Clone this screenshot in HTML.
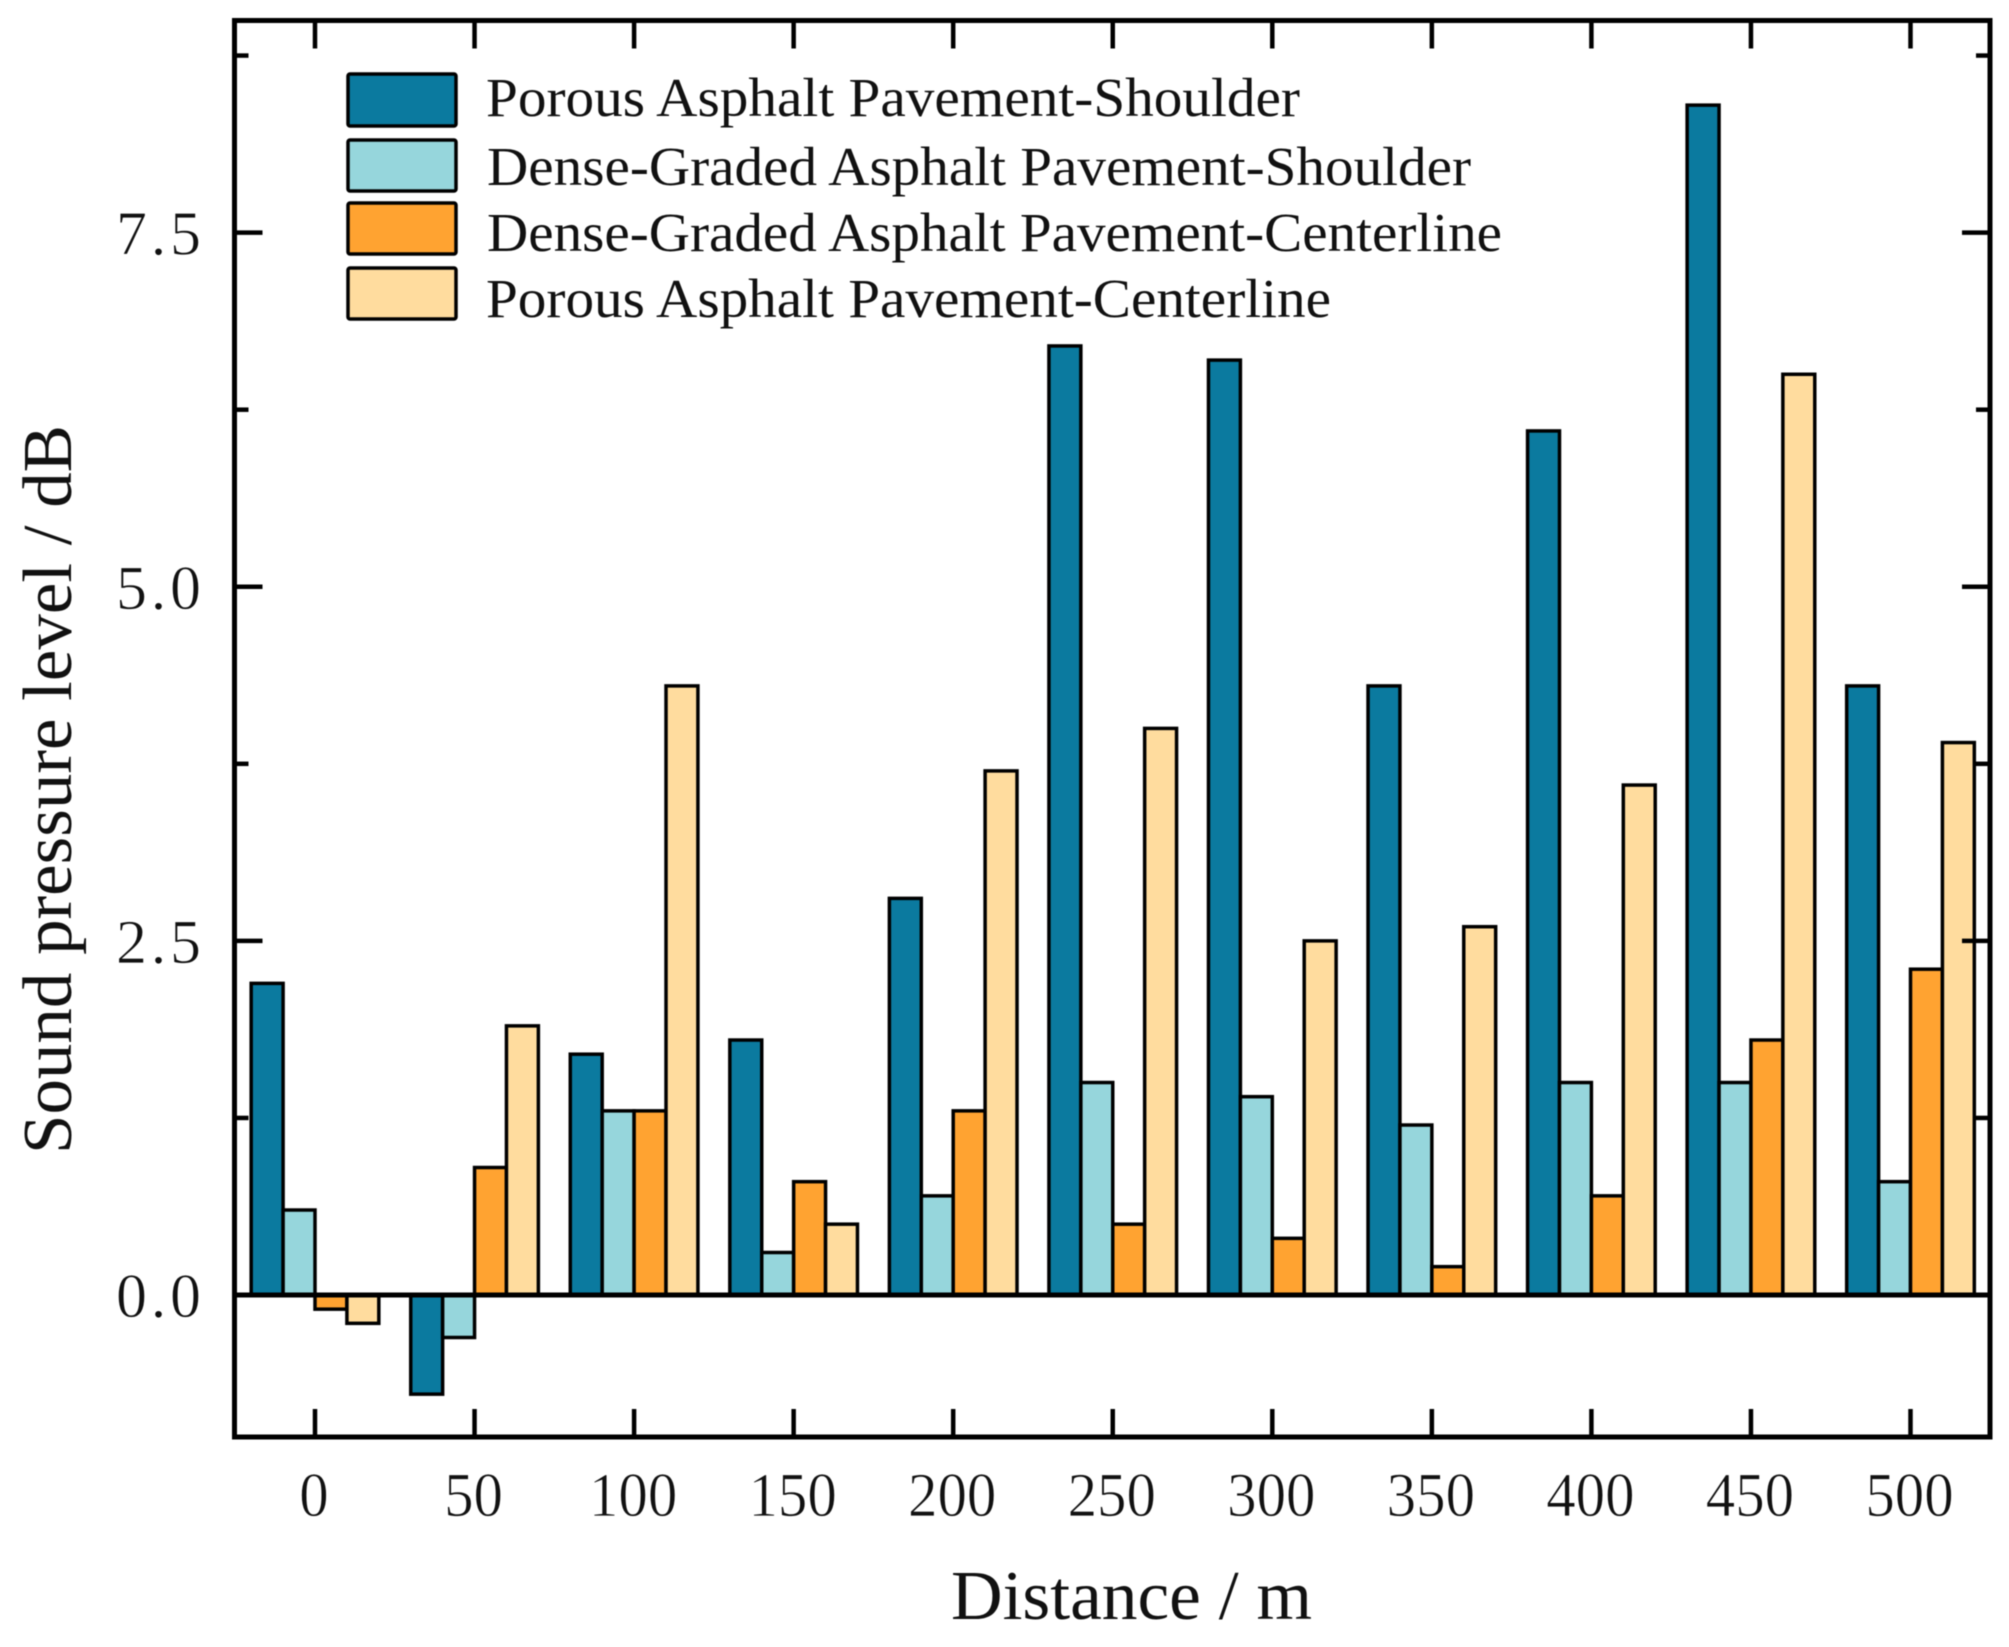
<!DOCTYPE html>
<html lang="en">
<head>
<meta charset="utf-8">
<title>Sound pressure level by distance</title>
<style>
  html, body { margin: 0; padding: 0; background: #fff; }
  body { width: 2009px; height: 1647px; overflow: hidden; }
  svg { display: block; filter: blur(0.6px); }
  text { font-family: "Liberation Serif", "Times New Roman", serif; fill: #111; }
</style>
</head>
<body>
<svg id="chart" xmlns="http://www.w3.org/2000/svg" width="2009" height="1647" viewBox="0 0 2009 1647">
  <rect x="0" y="0" width="2009" height="1647" fill="#ffffff"/>
  <g id="bars"></g>
  <g id="ticks"></g>
  <line id="zero-line" stroke="#000" stroke-width="5"/>
  <rect id="frame" fill="none" stroke="#000" stroke-width="5"/>
  <g id="tick-labels"></g>

  <g>
    <g>
      <rect x="348" y="74" width="108" height="52" rx="2" fill="#0b7a9f" stroke="#000" stroke-width="3.5"/>
      <text x="486" y="116" font-size="55" textLength="814" lengthAdjust="spacingAndGlyphs">Porous Asphalt Pavement-Shoulder</text>
    </g>
    <g>
      <rect x="348" y="140" width="108" height="51" rx="2" fill="#96d6dc" stroke="#000" stroke-width="3.5"/>
      <text x="487" y="185" font-size="55" textLength="984" lengthAdjust="spacingAndGlyphs">Dense-Graded Asphalt Pavement-Shoulder</text>
    </g>
    <g>
      <rect x="348" y="203" width="108" height="51" rx="2" fill="#ffa331" stroke="#000" stroke-width="3.5"/>
      <text x="487" y="251" font-size="55" textLength="1015" lengthAdjust="spacingAndGlyphs">Dense-Graded Asphalt Pavement-Centerline</text>
    </g>
    <g>
      <rect x="348" y="268" width="108" height="51" rx="2" fill="#ffdc9e" stroke="#000" stroke-width="3.5"/>
      <text x="486" y="317" font-size="55" textLength="845" lengthAdjust="spacingAndGlyphs">Porous Asphalt Pavement-Centerline</text>
    </g>
  </g>

  <text x="951" y="1619" font-size="70" textLength="361" lengthAdjust="spacingAndGlyphs">Distance / m</text>
  <text transform="translate(71,1154) rotate(-90)" x="0" y="0" font-size="70" textLength="729" lengthAdjust="spacingAndGlyphs">Sound pressure level / dB</text>
</svg>

<script>
const categories = [0, 50, 100, 150, 200, 250, 300, 350, 400, 450, 500];
const porousShoulder = [2.2, -0.7, 1.7, 1.8, 2.8, 6.7, 6.6, 4.3, 6.1, 8.4, 4.3];
const denseShoulder = [0.6, -0.3, 1.3, 0.3, 0.7, 1.5, 1.4, 1.2, 1.5, 1.5, 0.8];
const denseCenterline = [-0.1, 0.9, 1.3, 0.8, 1.3, 0.5, 0.4, 0.2, 0.7, 1.8, 2.3];
const porousCenterline = [-0.2, 1.9, 4.3, 0.5, 3.7, 4.0, 2.5, 2.6, 3.6, 6.5, 3.9];
const yMajorTicks = [0, 2.5, 5, 7.5];
const yMinorTicks = [1.25, 3.75, 6.25, 8.75];
const yTickLabels = ["0.0", "2.5", "5.0", "7.5"];
const xTickLabels = ["0", "50", "100", "150", "200", "250", "300", "350", "400", "450", "500"];

const seriesKeys = ["porous-shoulder", "dense-shoulder", "dense-centerline", "porous-centerline"];
const seriesValues = [porousShoulder, denseShoulder, denseCenterline, porousCenterline];
const seriesColors = ["#0b7a9f", "#96d6dc", "#ffa331", "#ffdc9e"];

const NS = "http://www.w3.org/2000/svg";
const plotLeft = 234.5, plotRight = 1990, plotTop = 20.5, plotBottom = 1437;
const bandPerUnit = 159.55 / 50;
const barFraction = 0.2;

function xScale(v) { return 315.0 + v * bandPerUnit; }
function yScale(v) { return 1295 - v * 141.65; }

function make(tag, attrs, parent) {
  const el = document.createElementNS(NS, tag);
  for (const k in attrs) el.setAttribute(k, attrs[k]);
  parent.appendChild(el);
  return el;
}

const barsG = document.getElementById("bars");
const barWidth = barFraction * 50 * bandPerUnit;
seriesValues.forEach(function (vals, s) {
  vals.forEach(function (v, i) {
    const x = xScale(categories[i]) + (s - 2) * barWidth;
    const y0 = yScale(0), y1 = yScale(v);
    const r = make("rect", {
      x: x, y: Math.min(y0, y1), width: barWidth, height: Math.abs(y1 - y0),
      fill: seriesColors[s], stroke: "#000", "stroke-width": 3.5
    }, barsG);
    
    
  });
});

const zero = document.getElementById("zero-line");
zero.setAttribute("x1", plotLeft);
zero.setAttribute("x2", plotRight);
zero.setAttribute("y1", yScale(0));
zero.setAttribute("y2", yScale(0));

const frame = document.getElementById("frame");
frame.setAttribute("x", plotLeft);
frame.setAttribute("y", plotTop);
frame.setAttribute("width", plotRight - plotLeft);
frame.setAttribute("height", plotBottom - plotTop);

const ticksG = document.getElementById("ticks");
const labelsG = document.getElementById("tick-labels");

categories.forEach(function (c, i) {
  const x = xScale(c);
  const b = make("line", { x1: x, x2: x, y1: plotBottom, y2: plotBottom - 28, stroke: "#000", "stroke-width": 4.5 }, ticksG);
  
  
  const t = make("line", { x1: x, x2: x, y1: plotTop, y2: plotTop + 28, stroke: "#000", "stroke-width": 4.5 }, ticksG);
  
  
  const lab = make("text", {
    transform: "translate(" + (x - 1) + ",1516) scale(0.95,1)",
    "text-anchor": "middle", "font-size": 62,
    stroke: "#fff", "stroke-width": 0.7
  }, labelsG);
  lab.textContent = xTickLabels[i];
  
  
});

function yTick(v, len, name) {
  const y = yScale(v);
  const l = make("line", { x1: plotLeft, x2: plotLeft + len, y1: y, y2: y, stroke: "#000", "stroke-width": 4.5 }, ticksG);
  
  
  const r = make("line", { x1: plotRight, x2: plotRight - len, y1: y, y2: y, stroke: "#000", "stroke-width": 4.5 }, ticksG);
  
  
}
yMajorTicks.forEach(function (v) { yTick(v, 28, "y-major-tick"); });
yMinorTicks.forEach(function (v) { yTick(v, 14, "y-minor-tick"); });

yMajorTicks.forEach(function (v, i) {
  const lab = make("text", {
    x: 116, y: yScale(v) + 22, "font-size": 62,
    textLength: 85, lengthAdjust: "spacing",
    stroke: "#fff", "stroke-width": 0.7
  }, labelsG);
  lab.textContent = yTickLabels[i];
  
  
});
</script>
</body>
</html>
